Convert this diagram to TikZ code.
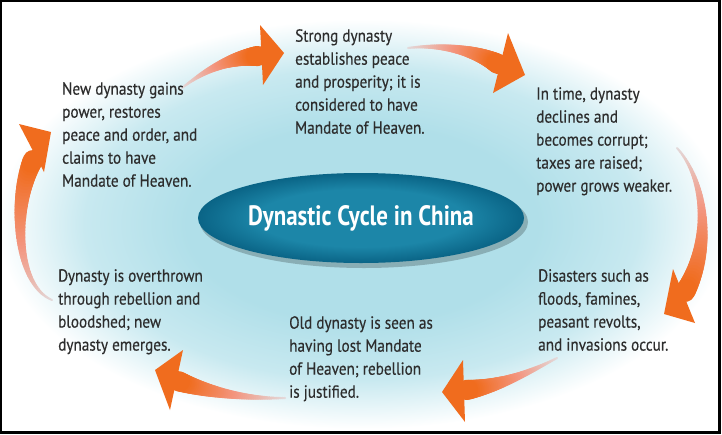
\documentclass[tikz,border=0pt]{standalone}
\usepackage{fontspec}
\setmainfont[FakeStretch=0.87,FakeBold=0.4]{PT Sans}
\newfontfamily\titlefont[FakeStretch=0.82]{PT Sans}
\usetikzlibrary{shapes.geometric}

\definecolor{txt}{RGB}{45,45,45}
\definecolor{glowc}{RGB}{176,223,233}
\definecolor{glowm}{RGB}{200,233,240}
\definecolor{elin}{RGB}{28,134,168}
\definecolor{elout}{RGB}{10,100,134}
\definecolor{arrhead}{RGB}{240,108,30}
\definecolor{arrmid}{RGB}{243,150,128}
\definecolor{arrtail}{RGB}{226,220,222}

\pgfdeclareradialshading{glowshade}{\pgfpoint{0bp}{0bp}}{color(0bp)=(glowc); color(12bp)=(glowc); color(19bp)=(glowm); color(25bp)=(white); color(50bp)=(white)}
\pgfdeclareradialshading{ellshade}{\pgfpoint{0bp}{0bp}}{color(0bp)=(elin); color(16bp)=(elin); color(25bp)=(elout); color(50bp)=(elout)}

\tikzset{
  lbl/.style={anchor=north west, align=left, inner sep=0pt,
    font=\fontsize{17.5}{23}\selectfont, text=txt},
  titlebox/.style={ellipse, minimum width=326pt, minimum height=90pt, inner sep=0pt,
    shading=ellshade, text=white, font=\titlefont\bfseries\fontsize{28}{32}\selectfont},
  headfill/.style={fill=arrhead}
}

% #1 start, #2 ctrl1, #3 ctrl2, #4 end (base of head), #5 wing, #6 tip, #7 wing
\newcommand\swoosh[7]{%
  \foreach \swi in {0,...,47}{%
    \pgfmathsetmacro\swA{\swi/48}%
    \pgfmathsetmacro\swB{(\swi+1)/48}%
    \pgfmathsetmacro\swW{2+18*(\swB)^1.5}%
    \pgfmathsetmacro\swP{min(100,max(0,200*\swB))}%
    \pgfmathsetmacro\swQ{min(100,max(0,200*\swB-100))}%
    \path #1 .. controls #2 and #3 .. #4 coordinate[pos=\swA] (sa) coordinate[pos=\swB] (sb);
    \draw[line width=\swW pt, draw=arrhead!\swQ!arrmid!\swP!arrtail, line cap=round] (sa) -- (sb);
  }%
  \fill[headfill] #5 -- #6 -- #7 -- cycle;
}

\begin{document}
\begin{tikzpicture}[x=1pt,y=-1pt]
\useasboundingbox (0,0) rectangle (722,434);
\fill[white] (0,0) rectangle (722,434);

% background glow
\shade[shading=glowshade] (362,224) ellipse [x radius=365pt, y radius=205pt];

% arrows
\coordinate (a1s) at (182,88);  \coordinate (a1e) at (258,56);
\coordinate (a2s) at (408,48);  \coordinate (a2e) at (498,64);
\coordinate (a3s) at (677,148); \coordinate (a3e) at (685,292);
\coordinate (a4s) at (557,358); \coordinate (a4e) at (466,390);
\coordinate (a5s) at (285,398); \coordinate (a5e) at (178,381);
\coordinate (a6s) at (52,300);  \coordinate (a6e) at (33,160);

\swoosh{(a1s)}{(205,70)}{(230,58)}{(a1e)}{(260,25)}{(284,53)}{(263,85)}
\swoosh{(a2s)}{(440,44)}{(475,50)}{(a2e)}{(508,33)}{(525,75)}{(493,93)}
\swoosh{(a3s)}{(706,180)}{(712,245)}{(a3e)}{(673,269)}{(664,314)}{(695,323)}
\swoosh{(a4s)}{(530,372)}{(500,386)}{(a4e)}{(463,360)}{(442,392)}{(465,422)}
\swoosh{(a5s)}{(250,399)}{(210,393)}{(a5e)}{(183,350)}{(155,370)}{(170,410)}
\swoosh{(a6s)}{(16,285)}{(12,205)}{(a6e)}{(19,124)}{(51,132)}{(44,172)}

% central ellipse
\fill[black, opacity=0.22] (364,222) ellipse [x radius=164pt, y radius=46pt];
\node[titlebox] (title) at (361,218) {Dynastic Cycle in China};

% texts
\node[lbl] (t1) at (62,82) {New dynasty gains\\power, restores\\peace and order, and\\claims to have\\Mandate of Heaven.};
\node[lbl] (t2) at (295,29) {Strong dynasty\\establishes peace\\and prosperity; it is\\considered to have\\Mandate of Heaven.};
\node[lbl] (t3) at (536,87) {In time, dynasty\\declines and\\becomes corrupt;\\taxes are raised;\\power grows weaker.};
\node[lbl] (t4) at (538,269) {Disasters such as\\floods, famines,\\peasant revolts,\\and invasions occur.};
\node[lbl] (t5) at (289,316) {Old dynasty is seen as\\having lost Mandate\\of Heaven; rebellion\\is justified.};
\node[lbl] (t6) at (58,269) {Dynasty is overthrown\\through rebellion and\\bloodshed; new\\dynasty emerges.};

% frame
\draw[line width=2.2pt] (1.1,1) rectangle (719.5,432.5);
\end{tikzpicture}
\end{document}
